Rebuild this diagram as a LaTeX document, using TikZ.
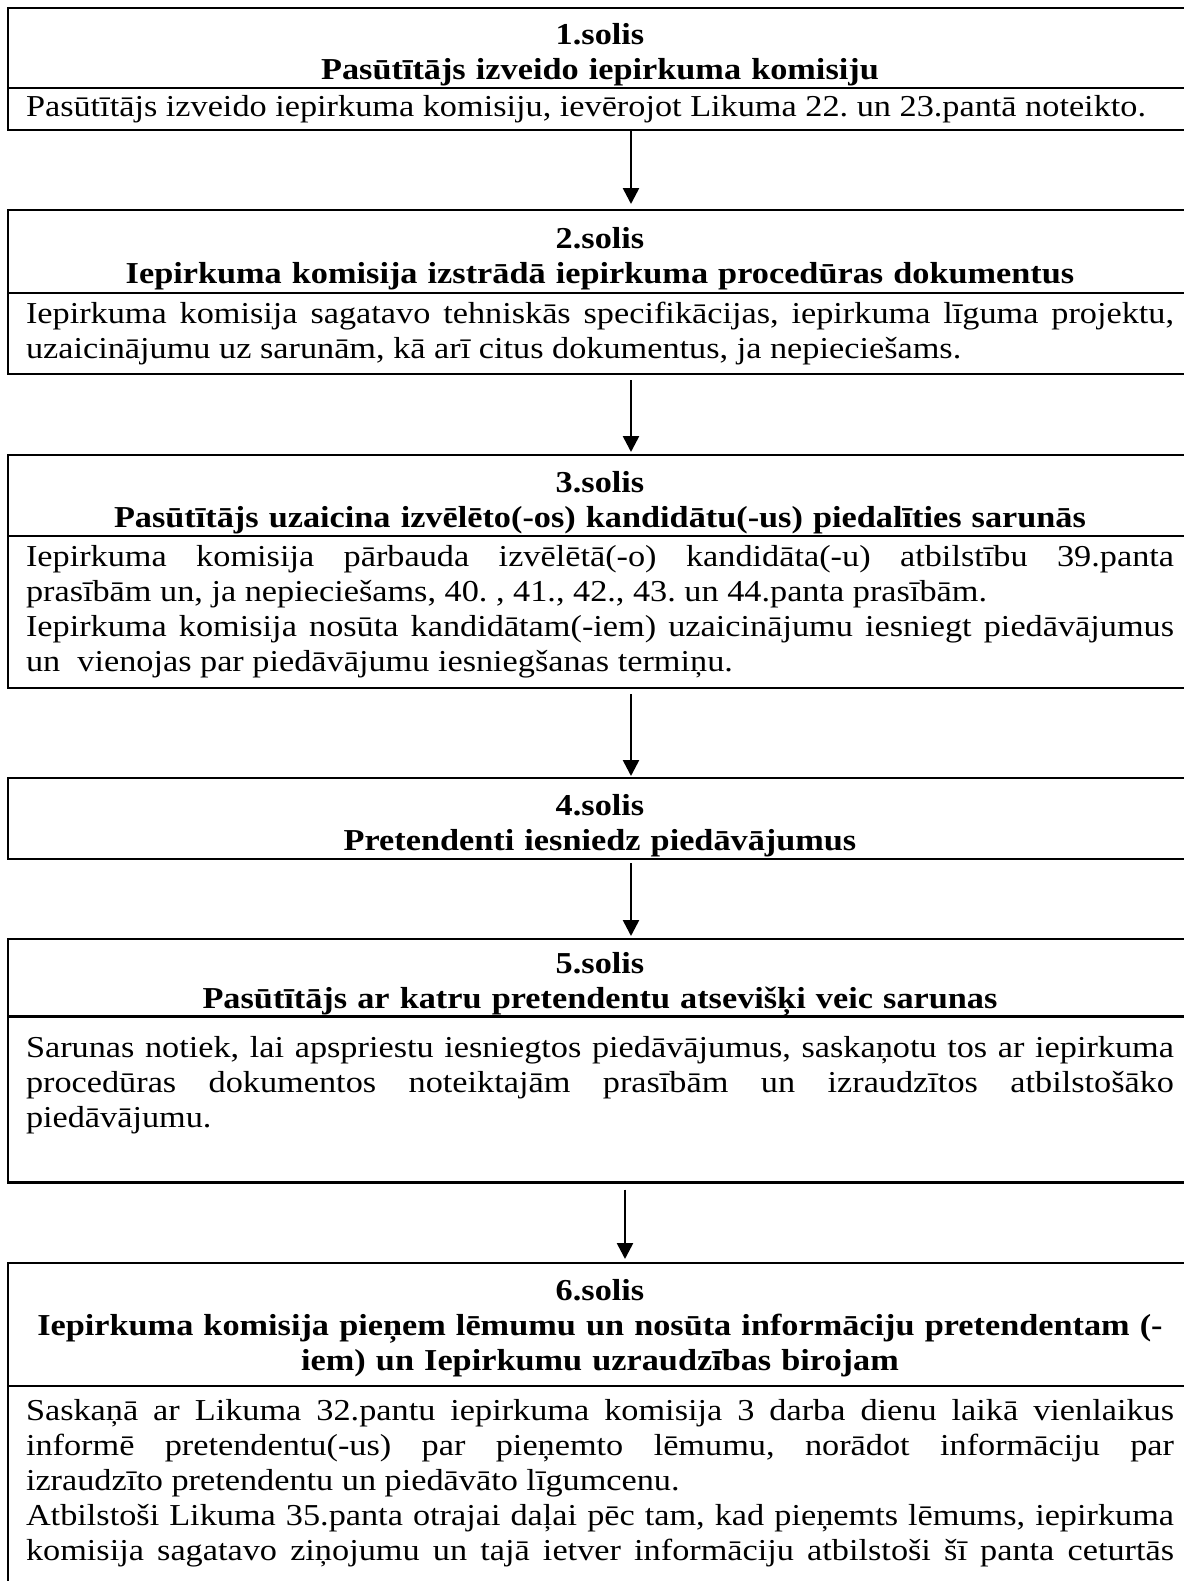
\documentclass[tikz,border=0pt]{standalone}
\usepackage{fontspec}
\setmainfont{Liberation Serif}[FakeStretch=1.127]
\usetikzlibrary{arrows.meta}
\hbadness=10000
\newcommand{\hdrgap}[1]{\rule{0pt}{#1}}
\tikzset{
  box/.style={draw, line width=1.4pt, minimum width=592pt, inner sep=0pt, outer sep=0pt},
  hdr/.style={box, text width=574pt, align=center,
    font=\bfseries\fontsize{15.2pt}{17.5pt}\selectfont},
  bdy/.style={box, text width=574pt, align=justify,
    font=\frenchspacing\fontsize{15.2pt}{17.5pt}\selectfont},
  arr/.style={-{Triangle[width=8pt,length=8pt]}, line width=1.3pt}
}
\begin{document}
\begin{tikzpicture}[x=0.5pt, y=-0.5pt]
  \useasboundingbox (0,0) rectangle (1184,1581);
  \clip (0,0) rectangle (1184,1581);
  % 1.solis
  \node[hdr, minimum height=40pt, anchor=north] (s1h) at (600,8)
    {\hdrgap{17.4pt}1.solis\\Pasūtītājs izveido iepirkuma komisiju};
  \node[bdy, minimum height=21pt, anchor=north] (s1b) at (s1h.south)
    {Pasūtītājs izveido iepirkuma komisiju, ievērojot Likuma 22. un 23.pantā noteikto.};
  % 2.solis
  \node[hdr, minimum height=41.5pt, anchor=north] (s2h) at (600,210)
    {\hdrgap{17.4pt}2.solis\\Iepirkuma komisija izstrādā iepirkuma procedūras dokumentus};
  \node[bdy, minimum height=40.5pt, anchor=north] (s2b) at (s2h.south)
    {Iepirkuma komisija sagatavo tehniskās specifikācijas, iepirkuma līguma projektu,\linebreak
     uzaicinājumu uz sarunām, kā arī citus dokumentus, ja nepieciešams.};
  % 3.solis
  \node[hdr, minimum height=40.5pt, anchor=north] (s3h) at (600,455)
    {\hdrgap{17.4pt}3.solis\\Pasūtītājs uzaicina izvēlēto(-os) kandidātu(-us) piedalīties sarunās};
  \node[bdy, minimum height=76pt, anchor=north] (s3b) at (s3h.south)
    {Iepirkuma komisija pārbauda izvēlētā(-o) kandidāta(-u) atbilstību 39.panta\linebreak
     prasībām un, ja nepieciešams, 40. , 41., 42., 43. un 44.panta prasībām.\\
     Iepirkuma komisija nosūta kandidātam(-iem) uzaicinājumu iesniegt piedāvājumus\linebreak
     un\ \ vienojas par piedāvājumu iesniegšanas termiņu.};
  % 4.solis
  \node[hdr, minimum height=40.5pt, anchor=north] (s4h) at (600,778)
    {\hdrgap{17.4pt}4.solis\\Pretendenti iesniedz piedāvājumus};
  % 5.solis
  \node[hdr, minimum height=38pt, anchor=north] (s5h) at (600,939)
    {\hdrgap{17.4pt}5.solis\\Pasūtītājs ar katru pretendentu atsevišķi veic sarunas};
  \node[bdy, minimum height=83pt, anchor=north] (s5b) at (s5h.south)
    {Sarunas notiek, lai apspriestu iesniegtos piedāvājumus, saskaņotu tos ar iepirkuma\linebreak
     procedūras dokumentos noteiktajām prasībām un izraudzītos atbilstošāko\linebreak
     piedāvājumu.\\\mbox{}};
  % 6.solis
  \node[hdr, minimum height=61.5pt, anchor=north] (s6h) at (600,1263)
    {\hdrgap{13.8pt}6.solis\\Iepirkuma komisija pieņem lēmumu un nosūta informāciju pretendentam (-\\
     iem) un Iepirkumu uzraudzības birojam};
  \node[bdy, inner ysep=6.5pt, anchor=north] (s6b) at (s6h.south)
    {Saskaņā ar Likuma 32.pantu iepirkuma komisija 3 darba dienu laikā vienlaikus\linebreak
     informē pretendentu(-us) par pieņemto lēmumu, norādot informāciju par\linebreak
     izraudzīto pretendentu un piedāvāto līgumcenu.\\
     Atbilstoši Likuma 35.panta otrajai daļai pēc tam, kad pieņemts lēmums, iepirkuma\linebreak
     komisija sagatavo ziņojumu un tajā ietver informāciju atbilstoši šī panta ceturtās\linebreak
     \mbox{}\par\vspace*{40pt}};
  % bultas
  \draw[arr] ([xshift=15.5pt]s1b.south) -- ([xshift=15.5pt,yshift=3pt]s2h.north);
  \draw[arr] ([xshift=15.5pt,yshift=-3pt]s2b.south) -- ([xshift=15.5pt,yshift=1.5pt]s3h.north);
  \draw[arr] ([xshift=15.5pt,yshift=-3pt]s3b.south) -- ([xshift=15.5pt,yshift=1pt]s4h.north);
  \draw[arr] ([xshift=15.5pt,yshift=-2pt]s4h.south) -- ([xshift=15.5pt,yshift=1.5pt]s5h.north);
  \draw[arr] ([xshift=12.5pt,yshift=-3.5pt]s5b.south) -- ([xshift=12.5pt,yshift=2pt]s6h.north);
\end{tikzpicture}
\end{document}
